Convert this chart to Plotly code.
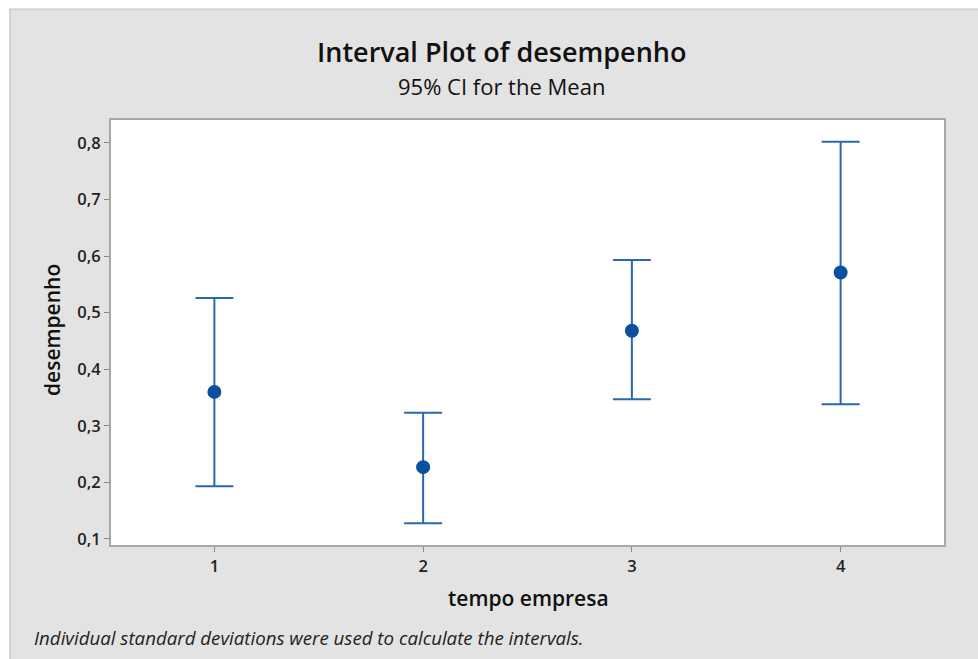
import plotly.graph_objects as go

# Data
groups = [1, 2, 3, 4]
means = [0.360, 0.227, 0.468, 0.571]
upper = [0.526, 0.323, 0.593, 0.802]
lower = [0.193, 0.128, 0.347, 0.338]
y_ticks = [0.1, 0.2, 0.3, 0.4, 0.5, 0.6, 0.7, 0.8]
y_tick_labels = ["0,1", "0,2", "0,3", "0,4", "0,5", "0,6", "0,7", "0,8"]

err_plus = [u - m for u, m in zip(upper, means)]
err_minus = [m - l for m, l in zip(means, lower)]

W, H = 978, 659
L, R, T, B = 110, 945, 119, 546  # plot area in px

def px(x):
    return (x - L) / (R - L)

def py(y):
    return (B - y) / (B - T)

FONT = "Open Sans"
GRAY = "#e3e3e3"

fig = go.Figure()
fig.add_trace(go.Scatter(
    x=groups, y=means, mode="markers",
    marker=dict(color="#0b4f9f", size=14, symbol="circle"),
    error_y=dict(type="data", symmetric=False, array=err_plus, arrayminus=err_minus,
                 color="#2a67b1", thickness=2, width=19),
    showlegend=False, hoverinfo="skip",
))

shapes = [
    # white page strips (top and left)
    dict(type="rect", xref="paper", yref="paper", x0=px(-5), x1=px(W + 5), y0=py(8.5), y1=py(-5),
         fillcolor="white", line=dict(width=0), layer="below"),
    dict(type="rect", xref="paper", yref="paper", x0=px(-5), x1=px(9), y0=py(H + 5), y1=py(-5),
         fillcolor="white", line=dict(width=0), layer="below"),
    # panel border
    dict(type="line", xref="paper", yref="paper", x0=px(9), x1=px(W + 5), y0=py(9.5), y1=py(9.5),
         line=dict(color="#d2d2d2", width=2), layer="below"),
    dict(type="line", xref="paper", yref="paper", x0=px(10), x1=px(10), y0=py(9), y1=py(H + 5),
         line=dict(color="#d2d2d2", width=2), layer="below"),
    # plot frame
    dict(type="rect", xref="paper", yref="paper", x0=0, x1=1, y0=0, y1=1,
         line=dict(color="#a8a8a8", width=2), layer="above"),
]

annotations = [
    dict(text="Interval Plot of desempenho", xref="paper", yref="paper", x=px(501), y=py(51),
         xanchor="center", yanchor="middle", showarrow=False,
         font=dict(family=FONT, size=27, color="#111111", weight=600)),
    dict(text="95% CI for the Mean", xref="paper", yref="paper", x=px(501), y=py(86),
         xanchor="center", yanchor="middle", showarrow=False,
         font=dict(family=FONT, size=22, color="#111111")),
    dict(text="desempenho", xref="paper", yref="paper", x=px(52), y=py(330), textangle=-90,
         xanchor="center", yanchor="middle", showarrow=False,
         font=dict(family=FONT, size=21, color="#111111", weight=600)),
    dict(text="tempo empresa", xref="paper", yref="paper", x=px(528), y=py(598),
         xanchor="center", yanchor="middle", showarrow=False,
         font=dict(family=FONT, size=21, color="#111111", weight=600)),
    dict(text="<i>Individual standard deviations were used to calculate the intervals.</i>",
         xref="paper", yref="paper", x=px(32), y=py(637),
         xanchor="left", yanchor="middle", showarrow=False,
         font=dict(family=FONT, size=18.7, color="#222222")),
]

fig.update_layout(
    width=W, height=H,
    margin=dict(l=L, r=W - R, t=T, b=H - B, pad=0),
    paper_bgcolor=GRAY, plot_bgcolor="white",
    shapes=shapes, annotations=annotations,
    font=dict(family=FONT),
)
fig.update_xaxes(range=[0.5, 4.5], tickvals=groups, ticktext=[str(g) for g in groups],
                 showgrid=False, zeroline=False, showline=False,
                 ticks="outside", ticklen=5, tickcolor="#888888", tickwidth=1,
                 tickfont=dict(family=FONT, size=16.5, color="#222222", weight=600))
fig.update_yaxes(range=[0.0876, 0.8424], tickvals=y_ticks, ticktext=y_tick_labels,
                 showgrid=False, zeroline=False, showline=False,
                 ticks="outside", ticklen=5, tickcolor="#888888", tickwidth=1,
                 tickfont=dict(family=FONT, size=16.5, color="#222222", weight=600))

fig.write_html("out.html")
